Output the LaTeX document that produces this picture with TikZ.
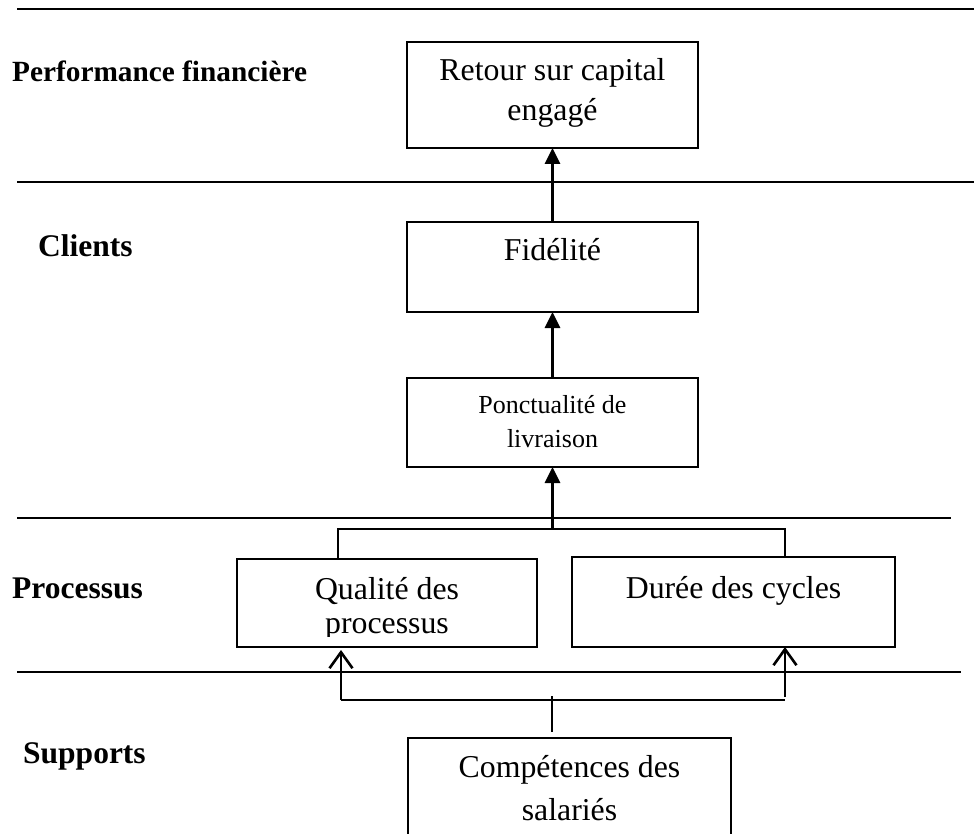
\documentclass[tikz,border=0pt]{standalone}
\usepackage{fontspec}
\setmainfont{Liberation Serif}
\usetikzlibrary{arrows.meta}

\begin{document}
\begin{tikzpicture}[x=1pt,y=-1pt,
  rule/.style={line width=2pt},
  box/.style={draw, line width=1.8pt, inner sep=0pt, outer sep=0pt, anchor=north west},
  boxtext/.style={anchor=base, inner sep=0pt, font=\fontsize{31.8}{38}\selectfont},
  smalltext/.style={anchor=base, inner sep=0pt, font=\fontsize{26}{32}\selectfont},
  lane/.style={anchor=base west, inner sep=0pt, font=\fontsize{31.5}{38}\selectfont\bfseries},
  uparrow/.style={line width=2.8pt, -{Triangle[length=16pt,width=15pt]}},
  openarrow/.style={line width=2.6pt, -{Straight Barb[length=16pt,width=23pt,line width=2.6pt]}},
  branch/.style={line width=1.6pt},
]
\useasboundingbox (0,0) rectangle (974,834);

% lane separators
\draw[rule] (17,9) -- (974,9);
\draw[rule] (17,182) -- (974,182);
\draw[rule] (17,518) -- (951,518);
\draw[rule] (17,672) -- (961,672);

% lane titles
\node[lane, font=\fontsize{29.3}{36}\selectfont\bfseries] (tperf) at (12,82) {Performance financière};
\node[lane] (tcli) at (38,257) {Clients};
\node[lane] (tproc) at (12,598) {Processus};
\node[lane] (tsup) at (23,763) {Supports};

% boxes
\node[box, minimum width=291pt, minimum height=106pt] (ret) at (407,42) {};
\node[box, minimum width=291pt, minimum height=90pt] (fid) at (407,222) {};
\node[box, minimum width=291pt, minimum height=89pt] (pon) at (407,378) {};
\node[box, minimum width=300pt, minimum height=88pt] (qua) at (237,559) {};
\node[box, minimum width=323pt, minimum height=90pt] (dur) at (572,557) {};
\node[box, minimum width=323pt, minimum height=130pt] (com) at (408,738) {};

% box texts
\node[boxtext] (ret1) at (552.5,81) {Retour sur capital};
\node[boxtext] (ret2) at (552.5,121) {engagé};
\node[boxtext] (fid1) at (552.5,261) {Fidélité};
\node[smalltext] (pon1) at (552.5,413) {Ponctualité de};
\node[smalltext] (pon2) at (552.5,447) {livraison};
\node[boxtext] (qua1) at (387,599) {Qualité des};
\begin{scope}
  \clip (237,559) rectangle (537,636);
  \node[boxtext] (qua2) at (387,633) {processus};
\end{scope}
\node[boxtext] (dur1) at (733.5,598) {Durée des cycles};
\node[boxtext] (com1) at (569.5,777) {Compétences des};
\node[boxtext] (com2) at (569.5,820) {salariés};

% upward chain
\draw[uparrow] (fid.north) -- (ret.south);
\draw[uparrow] (pon.north) -- (fid.south);
\coordinate (split) at (552.5,529);
\draw[uparrow] (split) -- (pon.south);

% fork from the process boxes
\coordinate (qtop) at (338,529);
\coordinate (dtop) at (785,529);
\draw[branch] (qua.north -| qtop) -- (qtop) -- (dtop) -- (dur.north -| dtop);

% support links
\coordinate (hub) at (552,700);
\coordinate (hubend) at (552,732);
\coordinate (sl) at (341,700);
\coordinate (sr) at (785,700);
\draw[branch] ([yshift=4pt]hub) -- (hubend);
\draw[branch] (sl) -- (sr);
\draw[openarrow] (sl) -- ([yshift=-3pt]qua.south -| sl);
\draw[openarrow] ([yshift=3pt]sr) -- (dur.south -| sr);
\end{tikzpicture}
\end{document}
